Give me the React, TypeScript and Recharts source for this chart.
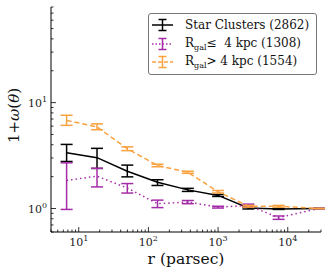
import React from 'react';
import { LineChart, Line, XAxis, YAxis, ErrorBar, Legend } from 'recharts';

// separation bins (parsec)
const radii = [6.7, 18.3, 49.8, 135, 368, 1000, 2720, 7390, 28000];

const allVals = [3.37, 3.02, 2.25, 1.77, 1.5, 1.33, 1.01, 0.99, 1.0];
const allLo = [0.59, 0.63, 0.26, 0.12, 0.05, 0.03, 0.02, 0.01, 0];
const allHi = [0.66, 0.68, 0.32, 0.1, 0.05, 0.03, 0.02, 0.01, 0];

const innerVals = [1.84, 2.02, 1.56, 1.11, 1.15, 1.03, 1.07, 0.82, 1.0];
const innerLo = [0.86, 0.42, 0.16, 0.09, 0.04, 0.02, 0.03, 0.03, 0];
const innerHi = [0.86, 0.38, 0.16, 0.09, 0.04, 0.02, 0.03, 0.03, 0];

const outerVals = [6.8, 5.9, 3.67, 2.55, 2.2, 1.44, 1.05, 1.05, 1.0];
const outerLo = [0.7, 0.35, 0.15, 0.07, 0.05, 0.04, 0.02, 0.02, 0];
const outerHi = [0.8, 0.4, 0.15, 0.07, 0.05, 0.04, 0.02, 0.02, 0];

const xMajor = [10, 100, 1000, 10000];
const xMinor = [4, 5, 6, 7, 8, 9, 20, 30, 40, 50, 60, 70, 80, 90, 200, 300, 400, 500, 600, 700, 800, 900,
  2000, 3000, 4000, 5000, 6000, 7000, 8000, 9000, 20000, 30000];
const yMajor = [1, 10];
const yMinor = [0.6, 0.7, 0.8, 0.9, 2, 3, 4, 5, 6, 7, 8, 9, 20, 30, 40, 50, 60, 70, 80];

const BLACK = '#000000';
const PURPLE = '#a52ca8';
const ORANGE = '#f9a240';
const FONT = '"DejaVu Serif", serif';

const data = radii.map((r, i) => ({
  r,
  all: allVals[i],
  allErr: [allLo[i], allHi[i]],
  inner: innerVals[i],
  innerErr: [innerLo[i], innerHi[i]],
  outer: outerVals[i],
  outerErr: [outerLo[i], outerHi[i]],
}));

const xTicks = [...xMinor, ...xMajor].sort((a, b) => a - b);
const yTicks = [...yMinor, ...yMajor].sort((a, b) => a - b);

const exp = (v: number) => Math.round(Math.log10(v));

const BottomTick = (props: any) => {
  const { x, y, payload } = props;
  const major = xMajor.includes(payload.value);
  return (
    <g>
      <line x1={x} x2={x} y1={y} y2={y - (major ? 5 : 2.5)} stroke="#000" strokeWidth={0.8} />
      {major && (
        <text x={x} y={y + 13.5} textAnchor="middle" fontFamily={FONT} fontSize={11} fill="#222">
          10<tspan dy={-5} fontSize={8}>{exp(payload.value)}</tspan>
        </text>
      )}
    </g>
  );
};

const TopTick = (props: any) => {
  const { x, y, payload } = props;
  const major = xMajor.includes(payload.value);
  return <line x1={x} x2={x} y1={y} y2={y + (major ? 5 : 2.5)} stroke="#000" strokeWidth={0.8} />;
};

const LeftTick = (props: any) => {
  const { x, y, payload } = props;
  const major = yMajor.includes(payload.value);
  return (
    <g>
      <line x1={x} x2={x + (major ? 5 : 2.5)} y1={y} y2={y} stroke="#000" strokeWidth={0.8} />
      {major && (
        <text x={x - 4} y={y + 4} textAnchor="end" fontFamily={FONT} fontSize={11} fill="#222">
          10<tspan dy={-5} fontSize={8}>{exp(payload.value)}</tspan>
        </text>
      )}
    </g>
  );
};

const RightTick = (props: any) => {
  const { x, y, payload } = props;
  const major = yMajor.includes(payload.value);
  return <line x1={x} x2={x - (major ? 5 : 2.5)} y1={y} y2={y} stroke="#000" strokeWidth={0.8} />;
};

const YLabel = (props: any) => {
  const vb = props.viewBox || { x: 0, y: 7, width: 51, height: 225 };
  const cx = 14;
  const cy = vb.y + vb.height / 2 - 4;
  return (
    <text
      x={cx}
      y={cy}
      transform={`rotate(-90 ${cx} ${cy})`}
      textAnchor="middle"
      dominantBaseline="central"
      fontFamily={FONT}
      fontSize={15}
      fill="#111"
    >
      1+<tspan fontStyle="italic">ω</tspan>(<tspan fontStyle="italic">θ</tspan>)
    </text>
  );
};

const legendRows = [
  { color: BLACK, dash: undefined as string | undefined, label: <>Star Clusters (2862)</> },
  { color: PURPLE, dash: '1.5 2', label: <>R<sub style={{ fontSize: 8 }}>gal</sub>≤&nbsp; 4 kpc (1308)</> },
  { color: ORANGE, dash: '4 2', label: <>R<sub style={{ fontSize: 8 }}>gal</sub>&gt; 4 kpc (1554)</> },
];

const LegendBox = () => (
  <div
    style={{
      width: 169,
      height: 62,
      boxSizing: 'border-box',
      border: '1px solid #777',
      borderRadius: 3,
      background: '#fff',
      fontFamily: FONT,
      fontSize: 12,
      color: '#111',
      padding: '2px 0 0 3px',
    }}
  >
    {legendRows.map((row, i) => (
      <div key={i} style={{ display: 'flex', alignItems: 'center', height: 18.5 }}>
        <svg width={33} height={14} style={{ flex: 'none' }}>
          <line x1={0} x2={21} y1={7} y2={7} stroke={row.color} strokeWidth={1.5} strokeDasharray={row.dash} />
          <line x1={10.5} x2={10.5} y1={1.5} y2={12.5} stroke={row.color} strokeWidth={1.5} />
          <line x1={6.5} x2={14.5} y1={1.5} y2={1.5} stroke={row.color} strokeWidth={1.5} />
          <line x1={6.5} x2={14.5} y1={12.5} y2={12.5} stroke={row.color} strokeWidth={1.5} />
        </svg>
        <span style={{ whiteSpace: 'nowrap' }}>{row.label}</span>
      </div>
    ))}
  </div>
);

export default function App() {
  return (
    <div style={{ position: 'absolute', left: 0, top: 0, background: '#fff' }}>
      <LineChart width={330} height={275} data={data} margin={{ top: 7, right: 9, left: 0, bottom: 0 }}>
        <XAxis
          dataKey="r"
          type="number"
          scale="log"
          domain={[4, 30000]}
          allowDataOverflow
          ticks={xTicks}
          interval={0}
          height={43}
          tickSize={0}
          tickMargin={0}
          tick={<BottomTick />}
          axisLine={{ stroke: '#000', strokeWidth: 1 }}
          label={{ value: 'r (parsec)', position: 'insideBottom', offset: 11, fontFamily: FONT, fontSize: 15.5, fill: '#111' }}
        />
        <XAxis
          xAxisId="top"
          dataKey="r"
          orientation="top"
          type="number"
          scale="log"
          domain={[4, 30000]}
          allowDataOverflow
          ticks={xTicks}
          interval={0}
          height={0}
          tickSize={0}
          tickMargin={0}
          tick={<TopTick />}
          axisLine={{ stroke: '#000', strokeWidth: 1 }}
        />
        <YAxis
          type="number"
          scale="log"
          domain={[0.6, 80]}
          allowDataOverflow
          ticks={yTicks}
          interval={0}
          width={51}
          tickSize={0}
          tickMargin={0}
          tick={<LeftTick />}
          axisLine={{ stroke: '#000', strokeWidth: 1 }}
          label={<YLabel />}
        />
        <YAxis
          yAxisId="right"
          orientation="right"
          type="number"
          scale="log"
          domain={[0.6, 80]}
          allowDataOverflow
          ticks={yTicks}
          interval={0}
          width={0}
          tickSize={0}
          tickMargin={0}
          tick={<RightTick />}
          axisLine={{ stroke: '#000', strokeWidth: 1 }}
        />
        <Legend
          layout="vertical"
          align="center"
          verticalAlign="middle"
          wrapperStyle={{ top: 13, left: 148, width: 169 }}
          content={() => <LegendBox />}
        />
        <Line dataKey="all" stroke={BLACK} strokeWidth={1.5} dot={false} isAnimationActive={false}>
          <ErrorBar dataKey="allErr" width={6} stroke={BLACK} strokeWidth={1.5} direction="y" />
        </Line>
        <Line dataKey="inner" stroke={PURPLE} strokeWidth={1.5} strokeDasharray="1.5 3" dot={false} isAnimationActive={false}>
          <ErrorBar dataKey="innerErr" width={6} stroke={PURPLE} strokeWidth={1.5} direction="y" />
        </Line>
        <Line dataKey="outer" stroke={ORANGE} strokeWidth={1.5} strokeDasharray="5 3" dot={false} isAnimationActive={false}>
          <ErrorBar dataKey="outerErr" width={6} stroke={ORANGE} strokeWidth={1.5} direction="y" />
        </Line>
      </LineChart>
    </div>
  );
}
